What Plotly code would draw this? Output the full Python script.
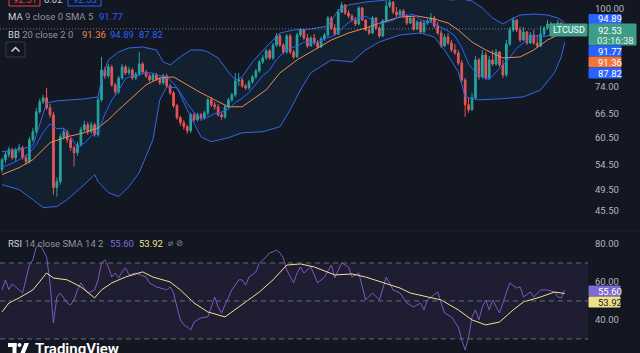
import plotly.graph_objects as go

W, H = 640, 353
PLOT_R = 588

# ---------------- price data (LTCUSD candles, left to right) ----------------
bars = list(range(165))
opens = [53.44,55.56,56.65,57.77,55.99,57.77,58.22,55.99,55.13,60.06,
         61.95,66.96,69.62,70.71,68.01,66.18,49.82,51.00,60.76,61.95,
         60.06,58.22,57.10,58.90,62.44,63.66,61.95,63.66,61.23,70.16,
         78.85,77.03,79.77,74.38,72.38,76.43,79.77,77.93,78.85,76.43,
         77.63,80.71,78.23,77.03,75.84,77.33,76.13,74.96,77.03,74.09,
         72.10,68.54,65.42,64.16,63.17,62.19,66.18,64.91,66.18,65.42,
         66.70,70.16,68.81,68.28,66.18,65.67,68.28,70.16,71.54,75.54,
         75.84,74.09,73.51,75.25,76.73,78.54,81.34,82.62,84.90,82.62,
         86.90,90.00,86.90,84.57,90.00,84.57,82.94,90.36,92.13,89.31,
         86.57,89.31,87.58,86.23,88.96,90.36,96.55,92.86,90.71,98.84,
         101.57,98.45,97.31,95.80,94.32,100.39,95.80,92.13,91.06,96.55,
         92.86,90.00,95.43,101.18,102.77,98.84,97.69,99.22,97.31,94.68,
         96.55,92.49,95.05,91.42,94.68,95.43,96.55,93.58,91.06,86.57,
         89.65,87.58,85.23,84.24,81.02,75.84,68.81,67.48,70.71,81.98,
         76.73,83.59,76.43,81.98,80.71,84.57,80.40,77.33,87.24,92.13,
         95.80,92.13,88.61,91.42,87.58,90.36,87.58,86.57,90.71,92.86,
         94.32,91.42,93.58,94.68,92.13]
closes = [55.56,56.65,57.77,55.99,57.77,58.22,55.99,55.13,60.06,61.95,
          66.96,69.62,70.71,68.01,66.18,49.82,51.00,60.76,61.95,60.06,
          58.22,57.10,58.90,62.44,63.66,61.95,63.66,61.23,70.16,78.85,
          77.03,79.77,74.38,72.38,76.43,79.77,77.93,78.85,76.43,77.63,
          80.71,78.23,77.03,75.84,77.33,76.13,74.96,77.03,74.09,72.10,
          68.54,65.42,64.16,63.17,62.19,66.18,64.91,66.18,65.42,66.70,
          70.16,68.81,68.28,66.18,65.67,68.28,70.16,71.54,75.54,75.84,
          74.09,73.51,75.25,76.73,78.54,81.34,82.62,84.90,82.62,86.90,
          90.00,86.90,84.57,90.00,84.57,82.94,90.36,92.13,89.31,86.57,
          89.31,87.58,86.23,88.96,90.36,96.55,92.86,90.71,98.84,101.57,
          98.45,97.31,95.80,94.32,100.39,95.80,92.13,91.06,96.55,92.86,
          90.00,95.43,101.18,102.77,98.84,97.69,99.22,97.31,94.68,96.55,
          92.49,95.05,91.42,94.68,95.43,96.55,93.58,91.06,86.57,89.65,
          87.58,85.23,84.24,81.02,75.84,68.81,67.48,70.71,81.98,76.73,
          83.59,76.43,81.98,80.71,84.57,80.40,77.33,87.24,92.13,95.80,
          92.13,88.61,91.42,87.58,90.36,87.58,86.57,90.71,92.86,94.32,
          91.42,93.58,94.68,92.13,92.53]
highs = [55.99,57.32,58.44,58.22,58.22,59.13,58.67,56.65,60.76,62.92,
         68.01,70.43,71.54,73.51,69.08,66.96,51.80,61.47,62.92,62.44,
         60.52,58.67,59.59,63.17,64.66,64.41,64.41,64.16,70.98,82.94,
         79.77,80.71,80.40,74.96,77.03,80.71,80.40,79.77,79.46,78.23,
         84.57,81.34,78.85,77.63,77.93,77.93,76.73,77.63,77.63,74.67,
         72.66,69.08,65.93,64.91,63.66,66.70,66.70,66.70,66.70,67.22,
         70.71,70.98,69.62,69.08,66.96,68.81,70.71,72.10,77.93,77.93,
         76.43,74.67,75.84,77.33,79.15,81.98,83.59,85.56,85.56,87.58,
         91.06,90.71,87.58,90.71,90.71,85.23,91.06,92.86,92.49,90.71,
         90.00,90.71,88.61,89.65,91.06,97.31,97.31,94.32,100.00,102.77,
         101.97,99.61,98.07,96.93,101.18,100.78,96.17,93.22,97.31,96.93,
         93.58,96.17,103.17,103.57,103.17,100.78,100.00,100.00,98.07,97.31,
         96.93,95.80,95.43,95.43,96.17,98.45,97.31,95.05,92.13,90.71,
         91.06,88.61,87.24,85.23,81.98,76.43,70.71,72.10,83.26,82.62,
         85.23,84.57,83.26,85.23,85.56,84.90,81.98,88.61,93.22,96.93,
         96.17,93.22,93.22,91.78,91.42,92.13,90.36,93.58,93.58,95.80,
         95.05,94.68,95.80,95.05,93.58]
lows = [52.82,54.91,55.99,55.56,55.13,57.10,55.56,54.49,54.70,59.59,
        61.47,66.44,69.08,67.48,65.42,48.48,48.10,50.40,60.06,59.36,
        57.54,54.07,56.43,58.44,61.95,61.23,61.47,60.76,60.76,69.62,
        76.13,76.43,73.80,71.54,71.82,75.84,77.33,77.33,75.84,75.84,
        77.03,77.63,76.43,75.25,75.25,75.54,74.38,74.38,73.51,71.54,
        68.01,64.91,63.41,62.44,61.47,61.71,64.41,64.41,64.66,64.91,
        65.93,68.28,67.48,65.67,64.91,65.16,67.75,69.62,70.98,74.09,
        73.51,72.94,72.94,74.67,76.13,77.93,80.71,81.98,81.98,81.98,
        86.23,86.23,83.91,83.91,83.91,82.30,82.62,89.65,88.61,85.90,
        86.23,86.90,85.56,85.90,88.27,89.65,92.13,90.00,90.36,98.45,
        97.69,96.55,95.05,93.58,93.95,95.43,91.78,90.36,90.71,92.13,
        89.31,89.65,95.05,100.39,98.07,96.93,96.93,96.55,93.95,94.32,
        91.78,92.13,90.71,91.06,93.95,94.68,92.86,90.36,85.90,86.23,
        86.90,84.57,83.59,80.40,75.25,65.67,66.70,67.22,70.16,75.84,
        76.13,75.84,75.84,80.08,80.08,79.77,76.43,76.73,86.57,91.42,
        91.42,87.93,88.27,86.90,87.24,86.90,85.90,86.23,90.00,92.13,
        90.71,91.06,92.86,91.42,91.42]

# ---------------- Bollinger Bands (20, 2) ----------------
bb_upper_x = [0,5,9,11,13,16,20,24,28,29,31,34,37,41,45,47,49,52,55,58,60,63,66,68,70,
              73,77,81,85,90,95,98,101,106,112,118,125,131,134,137,140,143,146,148,151,
              155,159,162,164]
bb_upper = [57.32,57.77,58.67,63.66,69.35,69.89,70.16,70.43,70.98,75.84,81.98,84.57,85.90,
            86.23,85.23,81.34,80.40,82.94,85.23,85.23,84.57,82.62,78.23,75.84,76.73,81.34,
            86.23,91.06,92.13,92.49,93.58,99.61,101.57,102.77,103.57,104.40,104.40,103.57,
            104.00,103.17,100.39,96.55,94.32,95.80,97.69,98.07,97.69,96.55,94.89]
bb_lower_x = [0,5,9,12,16,19,24,27,28,31,34,37,40,44,46,48,51,54,58,61,66,70,76,81,84,87,
              90,96,102,106,110,116,122,126,129,133,135,139,145,152,157,161,163,164]
bb_lower = [50.40,49.43,47.55,46.09,46.27,47.55,50.40,52.41,51.00,48.86,48.10,50.01,52.82,
            60.06,70.16,73.80,73.51,67.48,60.76,59.59,60.52,61.71,61.95,63.17,67.48,72.94,
            77.93,81.98,81.34,85.23,87.93,90.36,91.06,89.65,85.23,78.23,70.98,70.16,70.43,
            70.98,72.94,77.93,82.94,87.82]
bb_basis_x = [0,5,9,14,19,24,28,31,34,38,42,46,50,54,58,62,66,70,73,77,81,86,91,96,101,106,
              111,116,121,126,130,133,137,141,146,151,155,159,162,164]
bb_basis = [52.41,53.86,55.56,59.36,60.76,61.71,62.92,64.91,67.48,70.98,74.38,76.43,76.73,
            74.38,72.10,70.16,68.28,68.28,70.16,72.94,77.93,81.98,85.23,88.61,91.06,92.86,
            95.05,96.93,97.31,96.17,94.68,92.13,87.93,85.23,82.62,82.94,85.23,88.61,90.36,
            91.36]

# ---------------- MA 9 ----------------
ma_x = [0,4,8,10,12,14,15,16,18,20,22,24,26,28,30,32,34,36,38,40,42,44,46,48,50,52,54,56,
        58,60,62,64,66,68,70,72,74,76,78,80,82,84,86,88,90,92,94,96,98,100,102,104,106,108,
        110,112,114,116,118,120,122,124,126,128,130,132,134,136,138,140,142,144,146,148,150,
        152,154,156,158,160,162,164]
ma_vals = [53.9,55.1,57.0,58.9,61.8,63.9,63.2,62.7,62.8,60.8,58.2,59.3,60.9,61.9,66.4,70.1,
           72.7,76.3,77.0,77.2,78.1,77.8,77.1,76.8,74.8,72.2,69.1,66.8,65.1,65.5,66.5,66.9,
           67.7,69.4,70.6,72.2,74.6,77.1,78.8,82.1,84.3,85.9,86.5,87.9,87.8,87.7,89.0,89.8,
           91.3,93.8,95.8,96.7,97.2,95.8,94.3,95.0,95.7,97.2,97.5,97.9,95.9,95.2,94.5,93.0,
           91.8,90.0,86.1,80.7,78.1,76.7,76.0,78.2,80.4,82.7,85.8,87.7,89.2,90.2,89.8,90.3,
           91.3,91.77]

# ---------------- RSI 14 and its SMA 14 ----------------
rsi_x = [0,1,2,3,5,6,8,9,10,11,12,13,14,15,16,17,19,20,21,22,23,25,27,28,29,30,31,32,33,34,
         35,36,37,39,42,43,45,48,49,50,51,52,53,54,55,56,58,60,61,62,63,64,65,66,67,69,70,71,
         72,74,75,77,78,79,80,81,82,83,85,86,87,88,90,92,94,96,97,99,101,102,104,106,108,110,
         112,114,116,118,120,122,123,124,127,128,129,131,133,134,135,136,137,138,139,140,141,
         142,143,145,147,148,150,151,152,154,155,157,159,161,162,163,164]
rsi_vals = [55.8,61.0,56.0,59.0,55.8,54.2,69.0,71.6,78.4,79.5,76.8,73.2,59.5,38.4,52.1,54.2,
            48.9,47.9,50.5,55.8,59.5,54.2,55.8,61.1,70.0,71.6,67.9,62.6,64.7,62.1,65.3,67.4,
            63.7,64.7,62.6,59.5,57.4,55.8,57.4,54.2,46.8,40.0,37.4,36.3,34.7,38.9,41.1,41.6,
            46.8,52.1,46.8,43.7,47.9,52.1,55.8,61.1,61.1,58.4,62.6,65.3,70.0,73.2,75.3,75.8,
            76.8,75.3,72.6,66.3,59.5,64.7,67.9,64.7,67.9,59.5,62.6,68.9,62.1,70.0,67.9,62.6,
            64.7,50.5,54.2,50.5,62.6,55.8,54.2,48.9,46.8,48.9,45.3,50.5,54.7,48.9,43.7,41.6,
            36.3,29.5,24.2,31.1,41.6,45.3,40.0,46.8,50.5,45.3,50.5,43.7,54.2,59.5,56.8,57.4,
            52.1,54.7,52.1,55.8,55.8,54.7,52.1,51.6,55.60]
rsi_sma_x = [0,2,5,9,13,15,19,23,27,29,32,36,41,44,49,52,56,60,65,67,71,75,79,83,87,91,97,
             102,106,111,116,119,124,128,133,137,141,145,149,152,157,161,164]
rsi_sma = [44.2,48.9,51.6,55.8,64.7,62.1,61.1,57.4,51.6,55.8,59.5,62.6,65.3,62.6,60.0,55.8,
           48.9,44.2,41.6,44.2,49.5,54.7,61.1,68.9,69.5,67.9,63.7,64.2,62.6,59.5,56.8,54.2,
           52.1,50.5,45.3,40.0,37.4,38.9,45.3,49.5,52.1,54.7,53.92]
rsi_levels = [70, 50, 30]

last_price = 92.53
price_ticks = [45.5, 49.5, 54.5, 60.5, 66.5, 74.0, 100.0]
price_tick_text = ["45.50", "49.50", "54.50", "60.50", "66.50", "74.00", "100.00"]
rsi_ticks = [40, 60, 80]
rsi_tick_text = ["40.00", "60.00", "80.00"]

# ---------------- styling ----------------
BG = "#131722"
GREEN = "#26a69a"
RED = "#ef5350"
BLUE = "#2962ff"
BANDBLUE = "#3567e6"
ORANGE = "#f08a4b"
PURPLE = "#7e57c2"
YELLOW = "#f3e28f"
TXT = "#b2b5be"
GREY = "#8f939d"
FONT = "Roboto"

X_RANGE = [-0.58, 170.8]

def X(px):
    return px / W

def Y(py):
    return 1 - py / H

fig = go.Figure()

fig.add_trace(go.Scatter(x=bb_upper_x, y=bb_upper, mode="lines",
                         line=dict(color=BANDBLUE, width=1), hoverinfo="skip"))
fig.add_trace(go.Scatter(x=bb_lower_x, y=bb_lower, mode="lines",
                         line=dict(color=BANDBLUE, width=1), fill="tonexty",
                         fillcolor="rgba(33,150,243,0.07)", hoverinfo="skip"))
fig.add_trace(go.Scatter(x=bb_basis_x, y=bb_basis, mode="lines",
                         line=dict(color=ORANGE, width=1), hoverinfo="skip"))
fig.add_trace(go.Scatter(x=ma_x, y=ma_vals, mode="lines",
                         line=dict(color=BLUE, width=1), hoverinfo="skip"))
fig.add_trace(go.Scatter(x=X_RANGE, y=[last_price, last_price], mode="lines",
                         line=dict(color="rgba(160,170,180,0.7)", width=1, dash="1px,2px"),
                         hoverinfo="skip"))
fig.add_trace(go.Candlestick(x=bars, open=opens, high=highs, low=lows, close=closes,
                             increasing=dict(line=dict(color=GREEN, width=1), fillcolor=GREEN),
                             decreasing=dict(line=dict(color=RED, width=1), fillcolor=RED),
                             whiskerwidth=0))

fig.add_trace(go.Scatter(x=rsi_x, y=rsi_vals, mode="lines", yaxis="y2",
                         line=dict(color=PURPLE, width=1), hoverinfo="skip"))
fig.add_trace(go.Scatter(x=rsi_sma_x, y=rsi_sma, mode="lines", yaxis="y2",
                         line=dict(color=YELLOW, width=1), hoverinfo="skip"))

shapes = []
shapes.append(dict(type="rect", xref="paper", yref="y2", x0=0, x1=X(PLOT_R), y0=30, y1=70,
                   fillcolor="rgba(126,87,194,0.10)", line=dict(width=0), layer="below"))
for lv in rsi_levels:
    shapes.append(dict(type="line", xref="paper", yref="y2", x0=0, x1=X(PLOT_R), y0=lv, y1=lv,
                       line=dict(color="#6a6d78", width=1, dash="5px,4px")))
# pane separator
shapes.append(dict(type="line", xref="paper", yref="paper", x0=0, x1=1, y0=Y(231), y1=Y(231),
                   line=dict(color="#1f2330", width=1)))

def box(x0, x1, y0, y1, color, fill=True):
    shapes.append(dict(type="rect", xref="paper", yref="paper", x0=X(x0), x1=X(x1),
                       y0=Y(y1), y1=Y(y0),
                       fillcolor=color if fill else "rgba(0,0,0,0)",
                       line=dict(color=color, width=1)))

ann = []
def text(px, py, s, color, size=9.5, anchor="left", weight=None, family=FONT):
    f = dict(color=color, size=size, family=family)
    if weight:
        f["weight"] = weight
    ann.append(dict(x=X(px), y=Y(py), xref="paper", yref="paper", text=s, showarrow=False,
                    xanchor=anchor, yanchor="middle", font=f))

# top (cut-off) bid/ask row, as in the screenshot
box(9, 40, -9, 6, "#f23645", fill=False)
box(68, 101, -9, 6, BLUE, fill=False)
text(24.5, -0.5, "92.51", "#f23645", anchor="center")
text(53, -0.5, "0.02", "#d1d4dc", anchor="center")
text(84.5, -0.5, "92.53", BLUE, anchor="center")

# indicator legends
text(6, 17, "<span style='color:#d1d4dc'>MA</span> 9 close 0 SMA 5", GREY)
text(97, 17, "91.77", BLUE)
text(6, 34, "<span style='color:#d1d4dc'>BB</span> 20 close 2 0", GREY)
text(80, 34, "91.36", ORANGE)
text(108, 34, "94.89", BLUE)
text(137, 34, "87.82", BLUE)
text(6, 243, "<span style='color:#d1d4dc'>RSI</span> 14 close SMA 14 2", GREY)
text(108, 243, "55.60", "#7f6fd0")
text(137, 243, "53.92", YELLOW)
text(166, 243, "⌀ ⊘", GREY, family="DejaVu Sans", size=8.5)

# collapse button
shapes.append(dict(type="rect", xref="paper", yref="paper", x0=X(6), x1=X(25), y0=Y(57), y1=Y(42),
                   line=dict(color="#363a45", width=1), fillcolor="rgba(0,0,0,0)"))
shapes.append(dict(type="path", xref="paper", yref="paper",
                   path=f"M {X(11.5)},{Y(51.5)} L {X(15.5)},{Y(47.5)} L {X(19.5)},{Y(51.5)}",
                   line=dict(color="#d1d4dc", width=1.5)))

# price scale labels
box(589, 621, 14.5, 23.5, BLUE)
text(596, 19, "94.89", "white")
box(589, 636, 24, 45, "#3d9c86")
text(596, 30.5, "92.53", "white")
text(595, 40, "03:16:38", "#e6efe9")
box(589, 621, 46, 56, BLUE)
text(596, 51, "91.77", "white")
box(589, 621, 57, 67, "#f2743c")
text(596, 62, "91.36", "white")
box(589, 621, 68, 78, BLUE)
text(596, 73, "87.82", "white")
# symbol tag on last price line
box(550, 587, 24, 36, "#3d9c86")
text(568.5, 30, "LTCUSD", "white", size=9, anchor="center")

# RSI scale labels
box(589, 620, 286, 296, "#7e6ad0")
text(596, 291, "55.60", "white")
box(589, 620, 297, 307, "#efe08a")
text(596, 302, "53.92", "#131722")

# TradingView logo
shapes.append(dict(type="rect", xref="paper", yref="paper", x0=X(8), x1=X(16.5), y0=Y(347), y1=Y(343),
                   fillcolor="white", line=dict(width=0)))
shapes.append(dict(type="rect", xref="paper", yref="paper", x0=X(12.5), x1=X(16.5), y0=Y(354), y1=Y(343),
                   fillcolor="white", line=dict(width=0)))
shapes.append(dict(type="circle", xref="paper", yref="paper", x0=X(17.5), x1=X(21.5), y0=Y(347), y1=Y(343),
                   fillcolor="white", line=dict(width=0)))
shapes.append(dict(type="path", xref="paper", yref="paper",
                   path=f"M {X(20)},{Y(354)} L {X(24.5)},{Y(343)} L {X(29)},{Y(343)} L {X(24.5)},{Y(354)} Z",
                   fillcolor="white", line=dict(width=0)))
text(33, 348.5, "TradingView", "white", size=15, weight=600)

fig.update_layout(
    width=W, height=H,
    margin=dict(l=0, r=0, t=0, b=0),
    paper_bgcolor=BG, plot_bgcolor=BG,
    showlegend=False,
    font=dict(family=FONT, color=TXT, size=9.5),
    xaxis=dict(range=X_RANGE, domain=[0, X(PLOT_R)], visible=False, showgrid=False,
               rangeslider=dict(visible=False), anchor="y", fixedrange=True),
    yaxis=dict(type="log", range=[1.62900, 2.01524], domain=[Y(228), 1], side="right",
               anchor="x", tickvals=price_ticks, ticktext=price_tick_text,
               showgrid=False, zeroline=False, showline=False, ticks="",
               ticklabelstandoff=6, tickfont=dict(color=TXT, size=9.5, family=FONT)),
    yaxis2=dict(range=[22.6, 86.3], domain=[0, Y(232)], side="right", anchor="x",
                tickvals=rsi_ticks, ticktext=rsi_tick_text,
                showgrid=False, zeroline=False, showline=False, ticks="",
                ticklabelstandoff=6, tickfont=dict(color=TXT, size=9.5, family=FONT)),
    shapes=shapes,
    annotations=ann,
)

fig.write_html("out.html")
